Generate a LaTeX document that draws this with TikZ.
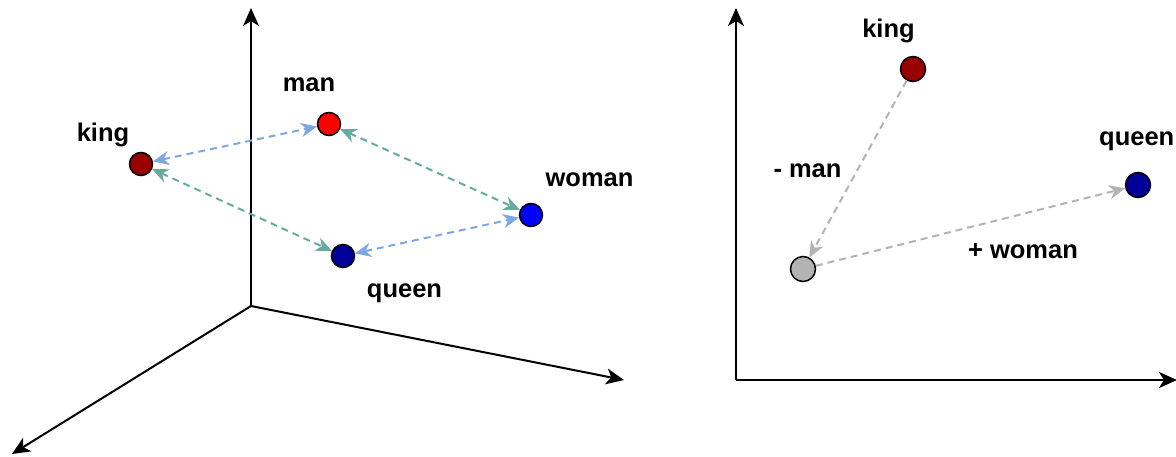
\documentclass[tikz,border=0pt]{standalone}
\usepackage{fontspec}
\setmainfont{Liberation Sans}
\usetikzlibrary{arrows.meta}
\definecolor{cdarkred}{HTML}{990000}
\definecolor{cred}{HTML}{FF0000}
\definecolor{cblue}{HTML}{0000FF}
\definecolor{cdarkblue}{HTML}{000099}
\definecolor{cgray}{HTML}{B3B3B3}
\definecolor{lblue}{HTML}{7EA6E0}
\definecolor{lgreen}{HTML}{67AB9F}
\definecolor{lgray}{HTML}{B3B3B3}
\tikzset{
  pt/.style={circle, draw=black, line width=1.5pt, minimum size=23pt, inner sep=0pt},
  lbl/.style={font=\fontsize{25.5}{28}\selectfont\bfseries, anchor=base, inner sep=0pt},
  axis/.style={line width=2pt, -{Stealth[length=18pt,width=16pt,inset=5pt]}},
  dlink/.style={line width=2pt, dash pattern=on 7pt off 5pt, {Stealth[length=16pt,width=14pt,inset=5pt]}-{Stealth[length=16pt,width=14pt,inset=5pt]}},
  slink/.style={line width=2pt, dash pattern=on 7pt off 5pt, -{Stealth[length=16pt,width=14pt,inset=5pt]}}
}
\begin{document}
\begin{tikzpicture}[x=1pt,y=-1pt]
\useasboundingbox (0,0) rectangle (1176,456);
% left axes
\coordinate (o1) at (251,306);
\coordinate (y1) at (251,8);
\coordinate (x1) at (624,380);
\coordinate (z1) at (12,454);
\draw[axis] (o1) -- (y1);
\draw[axis] (o1) -- (x1);
\draw[axis] (o1) -- (z1);
% left nodes
\node[pt, fill=cdarkred] (king) at (141,164) {};
\node[pt, fill=cred] (man) at (329,124) {};
\node[pt, fill=cblue] (woman) at (531,215) {};
\node[pt, fill=cdarkblue] (queen) at (343,256) {};
\node[lbl] (kingl) at (103,141) {king};
\node[lbl] (manl) at (309,91) {man};
\node[lbl] (womanl) at (589.5,186) {woman};
\node[lbl] (queenl) at (404.5,297) {queen};
% left links
\draw[dlink, lblue] (king) -- (man);
\draw[dlink, lgreen] (man) -- (woman);
\draw[dlink, lgreen] (king) -- (queen);
\draw[dlink, lblue] (queen) -- (woman);
% right axes
\coordinate (o2) at (736,380);
\coordinate (y2) at (736,8);
\coordinate (x2) at (1177,380);
\draw[axis] (o2) -- (y2);
\draw[axis] (o2) -- (x2);
% right nodes
\node[pt, fill=cdarkred, minimum size=25pt] (king2) at (913,69) {};
\node[pt, fill=cdarkblue, minimum size=25pt] (queen2) at (1138,185) {};
\node[pt, fill=cgray, minimum size=25pt] (res) at (803,269) {};
\node[lbl] (king2l) at (888.5,37) {king};
\node[lbl, anchor=base west] (queen2l) at (1099,145) {queen};
\node[lbl] (minusl) at (807.5,177) {- man};
\node[lbl] (plusl) at (1023,258) {+ woman};
\draw[slink, lgray] (king2) -- (res);
\draw[slink, lgray] (res) -- (queen2);
\end{tikzpicture}
\end{document}
